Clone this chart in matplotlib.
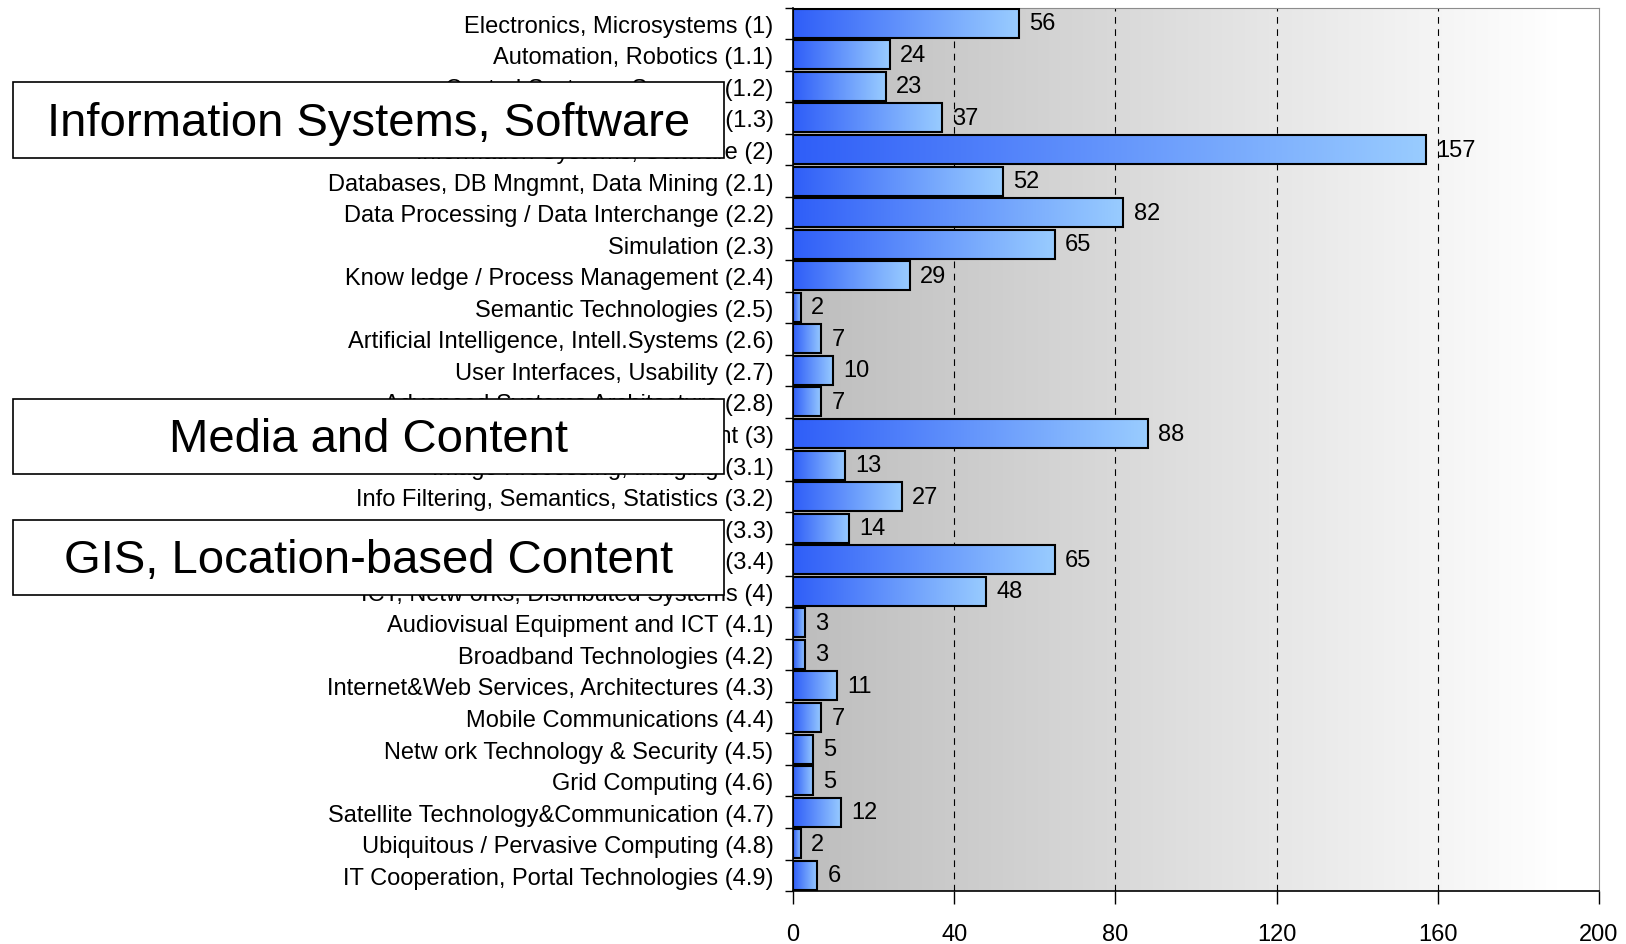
import numpy as np
import matplotlib.pyplot as plt
from matplotlib.colors import LinearSegmentedColormap
from matplotlib.patches import Rectangle

categories = [
    "Electronics, Microsystems (1)",
    "Automation, Robotics (1.1)",
    "Control Systems, Sensors (1.2)",
    "Embedded Systems (1.3)",
    "Information Systems, Software (2)",
    "Databases, DB Mngmnt, Data Mining (2.1)",
    "Data Processing / Data Interchange (2.2)",
    "Simulation (2.3)",
    "Know ledge / Process Management (2.4)",
    "Semantic Technologies (2.5)",
    "Artificial Intelligence, Intell.Systems (2.6)",
    "User Interfaces, Usability (2.7)",
    "Advanced Systems Architecture (2.8)",
    "Media and Content (3)",
    "Image Processing, Imaging (3.1)",
    "Info Filtering, Semantics, Statistics (3.2)",
    "E-Learning, Multimedia (3.3)",
    "GIS, Location-based Content (3.4)",
    "ICT, Netw orks, Distributed Systems (4)",
    "Audiovisual Equipment and ICT (4.1)",
    "Broadband Technologies (4.2)",
    "Internet&Web Services, Architectures (4.3)",
    "Mobile Communications (4.4)",
    "Netw ork Technology & Security (4.5)",
    "Grid Computing (4.6)",
    "Satellite Technology&Communication (4.7)",
    "Ubiquitous / Pervasive Computing (4.8)",
    "IT Cooperation, Portal Technologies (4.9)",
]
values = [56, 24, 23, 37, 157, 52, 82, 65, 29, 2, 7, 10, 7, 88,
          13, 27, 14, 65, 48, 3, 3, 11, 7, 5, 5, 12, 2, 6]
x_ticks = [0, 40, 80, 120, 160, 200]
group_titles = ["Information Systems, Software", "Media and Content",
                "GIS, Location-based Content"]

plt.rcParams['font.family'] = ['Liberation Sans', 'DejaVu Sans']

fig = plt.figure(figsize=(16.26, 9.45), dpi=100)
ax = fig.add_axes([0.4877, 0.056, 0.4957, 0.935])

n = len(values)
y = np.arange(n)
h = 0.92
ax.set_xlim(0, 200)
ax.set_ylim(n - 0.5, -0.5)

# background gradient
bg = LinearSegmentedColormap.from_list('bg', ['#bdbdbd', '#ffffff'])
grad = np.linspace(0, 1, 256).reshape(1, -1)
ax.imshow(grad, extent=[0, 190, n - 0.5, -0.5], cmap=bg, aspect='auto', zorder=0)
ax.add_patch(Rectangle((190, -0.5), 10, n, color='white', zorder=0))

for xt in x_ticks[1:-1]:
    ax.axvline(xt, color='black', lw=0.8, ls=(0, (6, 5)), zorder=1)

barmap = LinearSegmentedColormap.from_list('bar', ['#2f5ef8', '#99ccff'])
for yi, v in zip(y, values):
    ax.imshow(grad, extent=[0, v, yi + h / 2, yi - h / 2], cmap=barmap,
              aspect='auto', zorder=2)
bars = ax.barh(y, values, height=h, fill=False, edgecolor='black', lw=1.5, zorder=3)
for yi, v in zip(y, values):
    ax.text(v + 2.5, yi, str(v), va='center', ha='left', fontsize=17, zorder=4)

ax.set_ylim(n - 0.5, -0.5)
ax.set_xlim(0, 200)
ax.set_xticks(x_ticks)
ax.set_yticks(np.arange(n + 1) - 0.5, minor=False)
ax.set_yticklabels([])
ax.set_yticks(y, minor=True)
ax.set_yticklabels(categories, minor=True, fontsize=17)
ax.tick_params(axis='y', which='minor', length=0, pad=14)
ax.tick_params(axis='y', which='major', length=6, width=1)
ax.tick_params(axis='x', length=9, width=1, pad=14, labelsize=17)
for s in ['top', 'right']:
    ax.spines[s].set_color('#8c8c8c')
ax.spines['left'].set_linewidth(1.2)
ax.spines['bottom'].set_linewidth(1.2)

# overlay boxes
boxes = [(0.0083, 0.832), (0.0083, 0.497), (0.0083, 0.369)]
for (bx, by), t in zip(boxes, group_titles):
    fig.patches.append(Rectangle((bx, by), 0.437, 0.080, transform=fig.transFigure,
                                 facecolor='white', edgecolor='black', lw=1.2, zorder=5))
    fig.text(bx + 0.437 / 2, by + 0.037, t, ha='center', va='center',
             fontsize=34, zorder=6)

plt.savefig("out.png", dpi=100)
